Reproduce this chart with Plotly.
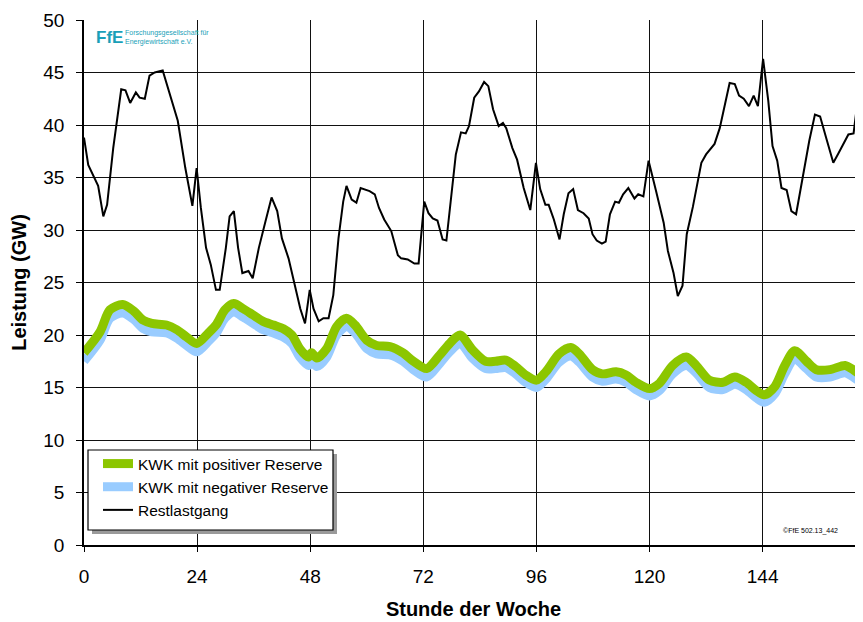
import plotly.graph_objects as go

# Restlastgang (black line)
rest_hours = [0, 0.9, 3, 4.1, 4.9, 6.2, 7.9, 8.8, 9.8, 11,
              11.8, 12.9, 13.9, 15, 16.7, 18.1, 19.9, 21.5, 23, 23.9,
              24.8, 25.9, 26.9, 28, 28.8, 30.1, 30.9, 31.8, 32.7, 33.6,
              34.9, 35.8, 37.1, 38.5, 39.8, 41, 42, 43.4, 44.8, 45.9,
              46.9, 47.9, 48.7, 49.8, 50.8, 51.9, 52.9, 54, 55, 55.7,
              56.8, 57.8, 58.7, 60.6, 61.7, 62.6, 63.7, 65.2, 66.6, 67.3,
              68.7, 70.1, 71, 72.2, 73.1, 74, 75, 76.1, 76.9, 78.1,
              78.9, 80, 81, 81.7, 82.8, 83.8, 84.9, 85.8, 86.8, 88,
              88.9, 89.6, 90.9, 91.9, 93.3, 94.7, 95.9, 96.8, 97.9, 98.6,
              99.7, 100.9, 101.8, 102.8, 103.8, 104.8, 106, 107.1, 107.9, 108.8,
              109.9, 110.7, 111.6, 112.7, 113.5, 114.4, 115.5, 116.8, 117.6, 118.7,
              119.8, 121.4, 123, 123.9, 125.1, 126, 127, 127.9, 129.2, 131,
              132, 133.8, 134.9, 137, 138.1, 139, 140, 141.1, 142.1, 143,
              144.1, 145.2, 146.1, 147.1, 148, 149.1, 150.1, 151.1, 152.8, 153.9,
              155.1, 156.2, 157.6, 159, 160.1, 161.1, 162.2, 163.3, 164.1, 165.3]
rest_values = [38.8, 36.2, 34.2, 31.3, 32.4, 37.8, 43.4, 43.3, 42.1, 43.1,
               42.6, 42.5, 44.7, 45.0, 45.2, 43.2, 40.4, 35.9, 32.3, 35.9,
               32.1, 28.3, 26.7, 24.3, 24.3, 28.3, 31.3, 31.8, 28.3, 25.9,
               26.1, 25.4, 28.3, 30.8, 33.1, 31.8, 29.2, 27.3, 24.5, 22.5,
               21.1, 24.3, 22.5, 21.3, 21.6, 21.6, 23.8, 29.2, 32.7, 34.2,
               32.9, 32.6, 34.0, 33.7, 33.4, 32.1, 31.0, 29.9, 27.6, 27.3,
               27.2, 26.8, 26.8, 32.7, 31.6, 31.1, 30.9, 29.1, 29.0, 34.0,
               37.2, 39.3, 39.2, 39.9, 42.6, 43.2, 44.1, 43.7, 41.5, 39.9,
               40.2, 39.7, 37.8, 36.7, 34.0, 31.9, 36.4, 33.9, 32.4, 32.4,
               31.0, 29.1, 31.5, 33.5, 33.9, 31.9, 31.6, 31.1, 29.6, 29.0,
               28.7, 28.9, 31.5, 32.7, 32.6, 33.4, 34.0, 33.0, 33.4, 33.2,
               36.6, 33.7, 30.7, 28.0, 25.9, 23.7, 24.7, 29.6, 32.2, 36.4,
               37.2, 38.2, 39.7, 44.0, 43.9, 42.8, 42.5, 41.8, 42.8, 41.8,
               46.3, 42.3, 38.0, 36.6, 34.0, 33.8, 31.8, 31.5, 35.9, 38.5,
               41.0, 40.8, 38.6, 36.4, 37.3, 38.2, 39.1, 39.2, 42.1, 43.4]

# KWK bands
kwk_hours = [0, 3.4, 5.5, 8.2, 10.5, 12.6, 14.4, 17.5, 19.7, 21.8,
             23.9, 26.4, 28.1, 29.9, 31.8, 33.8, 35.9, 38, 40.2, 42.3,
             44.1, 45.8, 47.6, 48.3, 49.4, 51.5, 53.6, 55.7, 57.5, 60,
             62.1, 64.9, 67.7, 69.9, 72.7, 75.5, 77.6, 79.8, 82.4, 85.2,
             87.3, 89.5, 91.6, 93.7, 96, 98, 100.8, 103.3, 105.1, 107.9,
             110, 112.9, 115, 117.1, 120, 122.1, 124.9, 127.8, 129.9, 132.7,
             135.6, 138.1, 140.5, 142.7, 144.4, 146.6, 148.7, 150.8, 153.3, 155.4,
             158.3, 161.5, 163.2, 165.3]
kwk_pos = [18.3, 20.3, 22.4, 22.9, 22.3, 21.4, 21.1, 20.95, 20.5, 19.8,
           19.2, 20.2, 21.0, 22.4, 23.0, 22.5, 21.9, 21.3, 20.95, 20.6,
           20.0, 18.7, 17.9, 18.3, 17.8, 18.7, 20.8, 21.6, 20.95, 19.5,
           19.0, 18.9, 18.3, 17.5, 16.8, 18.1, 19.2, 20.0, 18.6, 17.5,
           17.5, 17.6, 17.0, 16.2, 15.7, 16.5, 18.2, 18.8, 18.2, 16.7,
           16.3, 16.5, 16.2, 15.5, 14.9, 15.4, 17.1, 17.9, 17.1, 15.7,
           15.5, 16.0, 15.5, 14.7, 14.3, 15.1, 17.1, 18.5, 17.5, 16.7,
           16.7, 17.1, 16.7, 16.0]
kwk_neg = [17.5, 19.5, 21.6, 22.1, 21.5, 20.6, 20.3, 20.2, 19.7, 19.0,
           18.4, 19.4, 20.2, 21.6, 22.2, 21.7, 21.1, 20.5, 20.2, 19.8,
           19.2, 17.9, 17.1, 17.5, 17.0, 17.9, 20.0, 20.8, 20.2, 18.7,
           18.2, 18.1, 17.5, 16.7, 16.0, 17.3, 18.4, 19.2, 17.8, 16.8,
           16.8, 16.9, 16.3, 15.5, 15.0, 15.8, 17.4, 18.0, 17.4, 16.0,
           15.6, 15.8, 15.5, 14.8, 14.2, 14.7, 16.3, 17.1, 16.4, 15.0,
           14.8, 15.3, 14.8, 14.0, 13.6, 14.4, 16.3, 17.7, 16.8, 16.0,
           16.0, 16.4, 16.0, 15.3]

x_ticks = [0, 24, 48, 72, 96, 120, 144]
y_ticks = [0, 5, 10, 15, 20, 25, 30, 35, 40, 45, 50]

GREEN = "#8cc600"
BLUE = "#99ccff"
TEAL = "#1a9fb8"
FONT = "Liberation Sans"

OFF = 8  # page body margin
W, H = 863 - OFF, 622 - OFF
ML, MR, MT, MB = 84 - OFF, 0, 20 - OFF, 77
PW, PH = W - ML - MR, H - MT - MB


def px(xp):
    return (xp - OFF - ML) / PW


def py(yp):
    return (H - MB - (yp - OFF)) / PH


fig = go.Figure()
fig.add_trace(go.Scatter(x=kwk_hours, y=kwk_neg, mode="lines", name="KWK mit negativer Reserve",
                         line=dict(color=BLUE, width=9, shape="spline", smoothing=0.8),
                         legendrank=2))
fig.add_trace(go.Scatter(x=kwk_hours, y=kwk_pos, mode="lines", name="KWK mit positiver Reserve",
                         line=dict(color=GREEN, width=9, shape="spline", smoothing=0.8),
                         legendrank=1))
fig.add_trace(go.Scatter(x=rest_hours, y=rest_values, mode="lines", name="Restlastgang",
                         line=dict(color="black", width=2), legendrank=3))

# legend frame with shadow
fig.add_shape(type="rect", xref="paper", yref="paper", layer="above",
              x0=px(92), x1=px(337), y0=py(534), y1=py(454),
              line=dict(width=0), fillcolor="#9a9a9a")
fig.add_shape(type="rect", xref="paper", yref="paper", layer="above",
              x0=px(88), x1=px(333), y0=py(530), y1=py(450),
              line=dict(width=1.2, color="black"), fillcolor="white")

fig.update_layout(
    width=W, height=H,
    margin=dict(l=ML, r=MR, t=MT, b=MB, autoexpand=False),
    paper_bgcolor="white", plot_bgcolor="white",
    font=dict(family=FONT, color="black", size=19),
    showlegend=True,
    legend=dict(x=px(98), y=py(447), xanchor="left", yanchor="top",
                bgcolor="rgba(0,0,0,0)", borderwidth=0,
                font=dict(family=FONT, size=15.5), tracegroupgap=0,
                itemwidth=30),
    xaxis=dict(range=[0, 165.3], tickmode="array", tickvals=x_ticks,
               showgrid=True, gridcolor="#111111", gridwidth=1.3,
               showline=True, linecolor="black", linewidth=1.5,
               ticks="outside", ticklen=5, tickcolor="black",
               zeroline=False, tickfont=dict(size=19), ticklabelstandoff=8,
               title=dict(text="<b>Stunde der Woche</b>", font=dict(size=20), standoff=16)),
    yaxis=dict(range=[0, 50], tickmode="array", tickvals=y_ticks,
               showgrid=True, gridcolor="#111111", gridwidth=1.3,
               showline=True, linecolor="black", linewidth=1.5,
               ticks="outside", ticklen=6, tickcolor="black",
               zeroline=False, tickfont=dict(size=19), ticklabelstandoff=8,
               title=dict(text="<b>Leistung (GW)</b>", font=dict(size=20), standoff=12)),
)

fig.add_annotation(xref="paper", yref="paper", x=px(94), y=py(26), xanchor="left", yanchor="top",
                   text="<b>FfE</b>", showarrow=False, font=dict(family=FONT, size=17, color=TEAL))
fig.add_annotation(xref="paper", yref="paper", x=px(123), y=py(27), xanchor="left", yanchor="top",
                   text="Forschungsgesellschaft für<br>Energiewirtschaft e.V.", showarrow=False,
                   align="left", font=dict(family=FONT, size=7, color=TEAL))
fig.add_annotation(xref="paper", yref="paper", x=px(810), y=py(531), xanchor="center", yanchor="middle",
                   text="©FfE 502.13_442", showarrow=False, font=dict(family=FONT, size=7, color="black"))

fig.write_html("out.html")
